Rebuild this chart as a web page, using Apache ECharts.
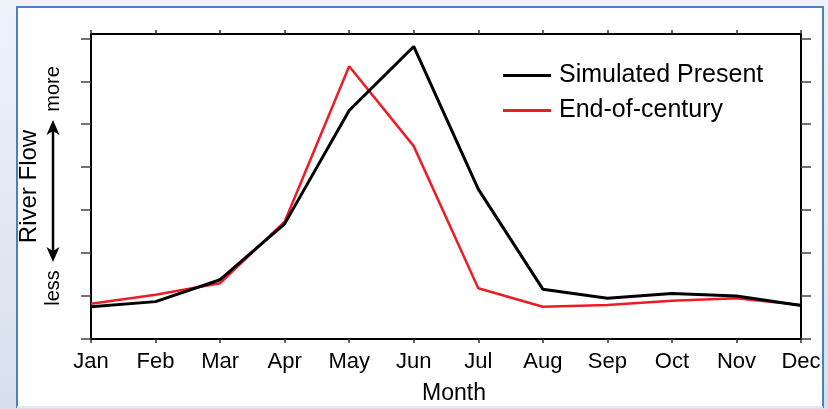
<!DOCTYPE html>
<html>
<head>
<meta charset="utf-8">
<script src="https://cdn.jsdelivr.net/npm/echarts@6/dist/echarts.min.js"></script>
<style>
  html, body { margin: 0; padding: 0; background: #eef2f9; }
  #chart { width: 828px; height: 409px; }
</style>
</head>
<body>
<div id="chart"></div>
<script>
const months = ["Jan", "Feb", "Mar", "Apr", "May", "Jun", "Jul", "Aug", "Sep", "Oct", "Nov", "Dec"];
// river flow, arbitrary units (no labels on the axis)
const simulatedPresent = [0.75, 0.87, 1.38, 2.68, 5.32, 6.81, 3.49, 1.16, 0.95, 1.06, 1.0, 0.78];
const endOfCentury = [0.82, 1.03, 1.3, 2.73, 6.35, 4.49, 1.18, 0.75, 0.79, 0.89, 0.95, 0.79];
const flowTicks = [0, 1, 2, 3, 4, 5, 6, 7];

const font = "'Liberation Sans', Arial, Helvetica, sans-serif";
const chart = echarts.init(document.getElementById("chart"));

const frameAxis = {
    axisLine: { show: true, onZero: false, lineStyle: { color: "#000", width: 2 } },
    splitLine: { show: false },
};

const option = {
    animation: false,
    textStyle: { fontFamily: font },
    grid: { left: 91, right: 27, top: 34, height: 305, outerBoundsMode: "none" },
    legend: {
        data: ["Simulated Present", "End-of-century"],
        orient: "vertical",
        left: 503,
        top: 63,
        padding: 0,
        itemGap: 10,
        icon: "rect",
        itemWidth: 48,
        itemHeight: 3,
        textStyle: { fontSize: 25, color: "#000", fontFamily: font, padding: [0, 0, 0, 3] },
    },
    xAxis: [
        {
            ...frameAxis,
            type: "category",
            data: months,
            boundaryGap: false,
            position: "bottom",
            axisTick: { show: true, length: 4, interval: 0, lineStyle: { color: "#333", width: 1.5 } },
            axisLabel: { interval: 0, fontSize: 22, color: "#000", margin: 12, fontFamily: font },
            name: "Month",
            nameLocation: "middle",
            nameGap: 43,
            nameTextStyle: { fontSize: 23, color: "#000", fontFamily: font, padding: [0, 0, 0, 16] },
        },
        {
            ...frameAxis,
            type: "category",
            data: months,
            boundaryGap: false,
            position: "top",
            axisTick: { show: true, length: 4, interval: 0, lineStyle: { color: "#333", width: 1.5 } },
            axisLabel: { show: false },
        },
    ],
    yAxis: [
        {
            ...frameAxis,
            type: "value",
            min: 0,
            max: 7.1,
            position: "left",
            axisTick: { show: true, length: 10, customValues: flowTicks, lineStyle: { color: "#444", width: 1.5 } },
            axisLabel: { show: false },
            name: "River Flow",
            nameLocation: "middle",
            nameGap: 50,
            nameTextStyle: { fontSize: 24, color: "#000", fontFamily: font },
        },
        {
            ...frameAxis,
            type: "value",
            min: 0,
            max: 7.1,
            position: "right",
            axisTick: { show: true, length: 10, customValues: flowTicks, lineStyle: { color: "#444", width: 1.5 } },
            axisLabel: { show: false },
        },
    ],
    series: [
        {
            name: "End-of-century",
            type: "line",
            data: endOfCentury,
            symbol: "none",
            color: "#ed1c24",
            lineStyle: { color: "#ed1c24", width: 2.5 },
            z: 3,
        },
        {
            name: "Simulated Present",
            type: "line",
            data: simulatedPresent,
            symbol: "none",
            color: "#000",
            lineStyle: { color: "#000", width: 3 },
            z: 4,
        },
    ],
    graphic: [
        {
            type: "rect",
            z: -20,
            silent: true,
            shape: { x: 0, y: 0, width: 828, height: 409 },
            style: {
                fill: {
                    type: "linear", x: 0, y: 0, x2: 0, y2: 1,
                    colorStops: [
                        { offset: 0, color: "#eef2f9" },
                        { offset: 1, color: "#d7e0ed" },
                    ],
                },
            },
        },
        {
            type: "rect",
            z: -19,
            silent: true,
            shape: { x: 17, y: 7, width: 806, height: 400 },
            style: { fill: "#fff", stroke: "#4a7fc1", lineWidth: 2 },
        },
        {
            type: "line",
            z: -18,
            silent: true,
            shape: { x1: 17, y1: 407, x2: 823, y2: 407 },
            style: { stroke: "#e4e8ef", lineWidth: 2 },
        },
        {
            type: "line",
            silent: true,
            shape: { x1: 53, y1: 128, x2: 53, y2: 254 },
            style: { stroke: "#000", lineWidth: 2.5 },
        },
        {
            type: "polygon",
            silent: true,
            shape: { points: [[53, 120], [46.5, 135], [53, 131], [59.5, 135]] },
            style: { fill: "#000" },
        },
        {
            type: "polygon",
            silent: true,
            shape: { points: [[53, 262], [46.5, 247], [53, 251], [59.5, 247]] },
            style: { fill: "#000" },
        },
        {
            type: "text",
            silent: true,
            x: 53,
            y: 89,
            rotation: Math.PI / 2,
            style: { text: "more", fontSize: 20, fontFamily: font, fill: "#000", align: "center", verticalAlign: "middle" },
        },
        {
            type: "text",
            silent: true,
            x: 53,
            y: 288,
            rotation: Math.PI / 2,
            style: { text: "less", fontSize: 20, fontFamily: font, fill: "#000", align: "center", verticalAlign: "middle" },
        },
    ],
};

chart.setOption(option);
</script>
</body>
</html>
